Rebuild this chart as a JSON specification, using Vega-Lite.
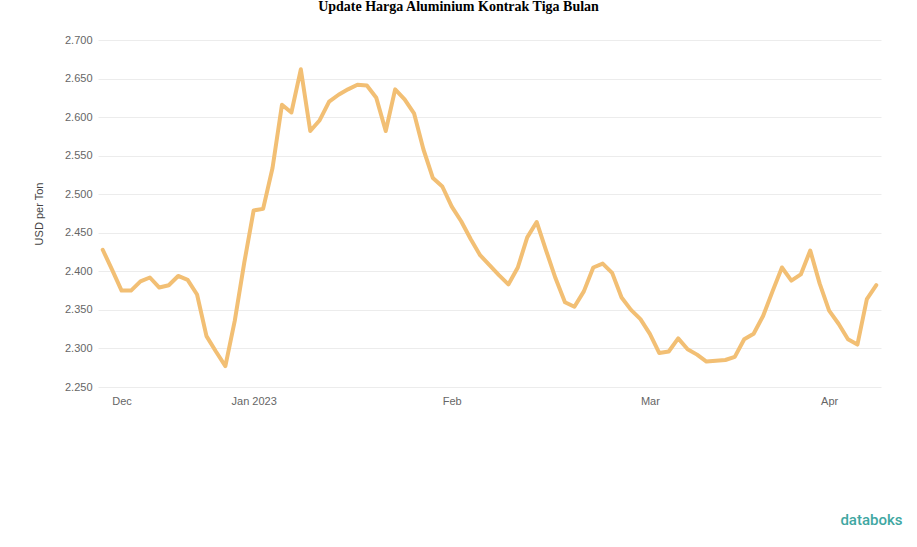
{
  "$schema": "https://vega.github.io/schema/vega-lite/v6.json",
  "autosize": {"type": "none"},
  "width": 783,
  "height": 347,
  "padding": {"left": 98, "top": 40, "right": 36, "bottom": 160},
  "background": "white",
  "title": {
    "text": "Update Harga Aluminium Kontrak Tiga Bulan",
    "font": "Liberation Serif",
    "fontSize": 14,
    "fontWeight": "bold",
    "color": "#000000",
    "anchor": "middle",
    "frame": "group",
    "dx": -31,
    "offset": 20
  },
  "data": {"values": [
    {"tanggal": "2022-11-29", "harga": 2428},
    {"tanggal": "2022-11-30", "harga": 2402},
    {"tanggal": "2022-12-01", "harga": 2375},
    {"tanggal": "2022-12-02", "harga": 2375},
    {"tanggal": "2022-12-05", "harga": 2387},
    {"tanggal": "2022-12-06", "harga": 2392},
    {"tanggal": "2022-12-07", "harga": 2379},
    {"tanggal": "2022-12-08", "harga": 2382},
    {"tanggal": "2022-12-09", "harga": 2394},
    {"tanggal": "2022-12-12", "harga": 2389},
    {"tanggal": "2022-12-13", "harga": 2370},
    {"tanggal": "2022-12-14", "harga": 2316},
    {"tanggal": "2022-12-15", "harga": 2296},
    {"tanggal": "2022-12-16", "harga": 2277},
    {"tanggal": "2022-12-19", "harga": 2336},
    {"tanggal": "2022-12-20", "harga": 2411},
    {"tanggal": "2023-01-03", "harga": 2479},
    {"tanggal": "2023-01-04", "harga": 2481},
    {"tanggal": "2023-01-05", "harga": 2534},
    {"tanggal": "2023-01-06", "harga": 2616},
    {"tanggal": "2023-01-09", "harga": 2606},
    {"tanggal": "2023-01-10", "harga": 2662},
    {"tanggal": "2023-01-11", "harga": 2582},
    {"tanggal": "2023-01-12", "harga": 2596},
    {"tanggal": "2023-01-13", "harga": 2620},
    {"tanggal": "2023-01-16", "harga": 2629},
    {"tanggal": "2023-01-17", "harga": 2636},
    {"tanggal": "2023-01-18", "harga": 2642},
    {"tanggal": "2023-01-19", "harga": 2641},
    {"tanggal": "2023-01-20", "harga": 2625},
    {"tanggal": "2023-01-23", "harga": 2582},
    {"tanggal": "2023-01-24", "harga": 2636},
    {"tanggal": "2023-01-25", "harga": 2623},
    {"tanggal": "2023-01-26", "harga": 2605},
    {"tanggal": "2023-01-27", "harga": 2558},
    {"tanggal": "2023-01-30", "harga": 2521},
    {"tanggal": "2023-01-31", "harga": 2510},
    {"tanggal": "2023-02-01", "harga": 2484},
    {"tanggal": "2023-02-02", "harga": 2465},
    {"tanggal": "2023-02-03", "harga": 2442},
    {"tanggal": "2023-02-06", "harga": 2421},
    {"tanggal": "2023-02-07", "harga": 2408},
    {"tanggal": "2023-02-08", "harga": 2395},
    {"tanggal": "2023-02-09", "harga": 2383},
    {"tanggal": "2023-02-10", "harga": 2405},
    {"tanggal": "2023-02-13", "harga": 2444},
    {"tanggal": "2023-02-14", "harga": 2464},
    {"tanggal": "2023-02-15", "harga": 2427},
    {"tanggal": "2023-02-16", "harga": 2391},
    {"tanggal": "2023-02-17", "harga": 2360},
    {"tanggal": "2023-02-20", "harga": 2354},
    {"tanggal": "2023-02-21", "harga": 2374},
    {"tanggal": "2023-02-22", "harga": 2405},
    {"tanggal": "2023-02-23", "harga": 2410},
    {"tanggal": "2023-02-24", "harga": 2398},
    {"tanggal": "2023-02-25", "harga": 2366},
    {"tanggal": "2023-02-27", "harga": 2350},
    {"tanggal": "2023-02-28", "harga": 2338},
    {"tanggal": "2023-03-01", "harga": 2319},
    {"tanggal": "2023-03-02", "harga": 2294},
    {"tanggal": "2023-03-03", "harga": 2296},
    {"tanggal": "2023-03-06", "harga": 2313},
    {"tanggal": "2023-03-07", "harga": 2299},
    {"tanggal": "2023-03-08", "harga": 2292},
    {"tanggal": "2023-03-09", "harga": 2283},
    {"tanggal": "2023-03-10", "harga": 2284},
    {"tanggal": "2023-03-13", "harga": 2285},
    {"tanggal": "2023-03-14", "harga": 2289},
    {"tanggal": "2023-03-15", "harga": 2312},
    {"tanggal": "2023-03-16", "harga": 2319},
    {"tanggal": "2023-03-17", "harga": 2342},
    {"tanggal": "2023-03-20", "harga": 2374},
    {"tanggal": "2023-03-21", "harga": 2405},
    {"tanggal": "2023-03-22", "harga": 2388},
    {"tanggal": "2023-03-24", "harga": 2396},
    {"tanggal": "2023-03-28", "harga": 2427},
    {"tanggal": "2023-03-30", "harga": 2384},
    {"tanggal": "2023-04-03", "harga": 2349},
    {"tanggal": "2023-04-04", "harga": 2332},
    {"tanggal": "2023-04-05", "harga": 2312},
    {"tanggal": "2023-04-06", "harga": 2305},
    {"tanggal": "2023-04-11", "harga": 2364},
    {"tanggal": "2023-04-12", "harga": 2382}
  ]},
  "mark": {"type": "line", "color": "#f2bf74", "strokeWidth": 4, "strokeJoin": "round", "strokeCap": "round"},
  "encoding": {
    "x": {
      "field": "tanggal",
      "type": "ordinal",
      "sort": "ascending",
      "scale": {"type": "point"},
      "axis": {
        "values": ["2022-12-01", "2023-01-03", "2023-02-01", "2023-03-01", "2023-04-03"],
        "labelExpr": "datum.value == '2022-12-01' ? 'Dec' : datum.value == '2023-01-03' ? 'Jan 2023' : datum.value == '2023-02-01' ? 'Feb' : datum.value == '2023-03-01' ? 'Mar' : 'Apr'",
        "labelAngle": 0,
        "labelFont": "Liberation Sans",
        "labelFontSize": 11,
        "labelColor": "#666666",
        "labelPadding": 8,
        "ticks": false,
        "domain": false,
        "grid": false,
        "title": "databoks",
        "titleFont": "Roboto",
        "titleFontSize": 15,
        "titleFontWeight": 500,
        "titleColor": "#3fa7a2",
        "titleAnchor": null,
        "titleAlign": "right",
        "titleBaseline": "alphabetic",
        "titleX": 804,
        "titleY": 137
      }
    },
    "y": {
      "field": "harga",
      "type": "quantitative",
      "scale": {"domain": [2250, 2700], "nice": false, "zero": false},
      "axis": {
        "values": [2250, 2300, 2350, 2400, 2450, 2500, 2550, 2600, 2650, 2700],
        "labelExpr": "replace(format(datum.value, ',.0f'), ',', '.')",
        "labelFont": "Liberation Sans",
        "labelFontSize": 11,
        "labelColor": "#666666",
        "labelPadding": 6,
        "ticks": false,
        "domain": false,
        "grid": true,
        "gridColor": "#ececec",
        "gridWidth": 1,
        "title": "USD per Ton",
        "titleFont": "Liberation Sans",
        "titleFontSize": 11,
        "titleFontWeight": "normal",
        "titleColor": "#444444",
        "titlePadding": 20
      }
    }
  },
  "config": {"view": {"stroke": null}}
}
